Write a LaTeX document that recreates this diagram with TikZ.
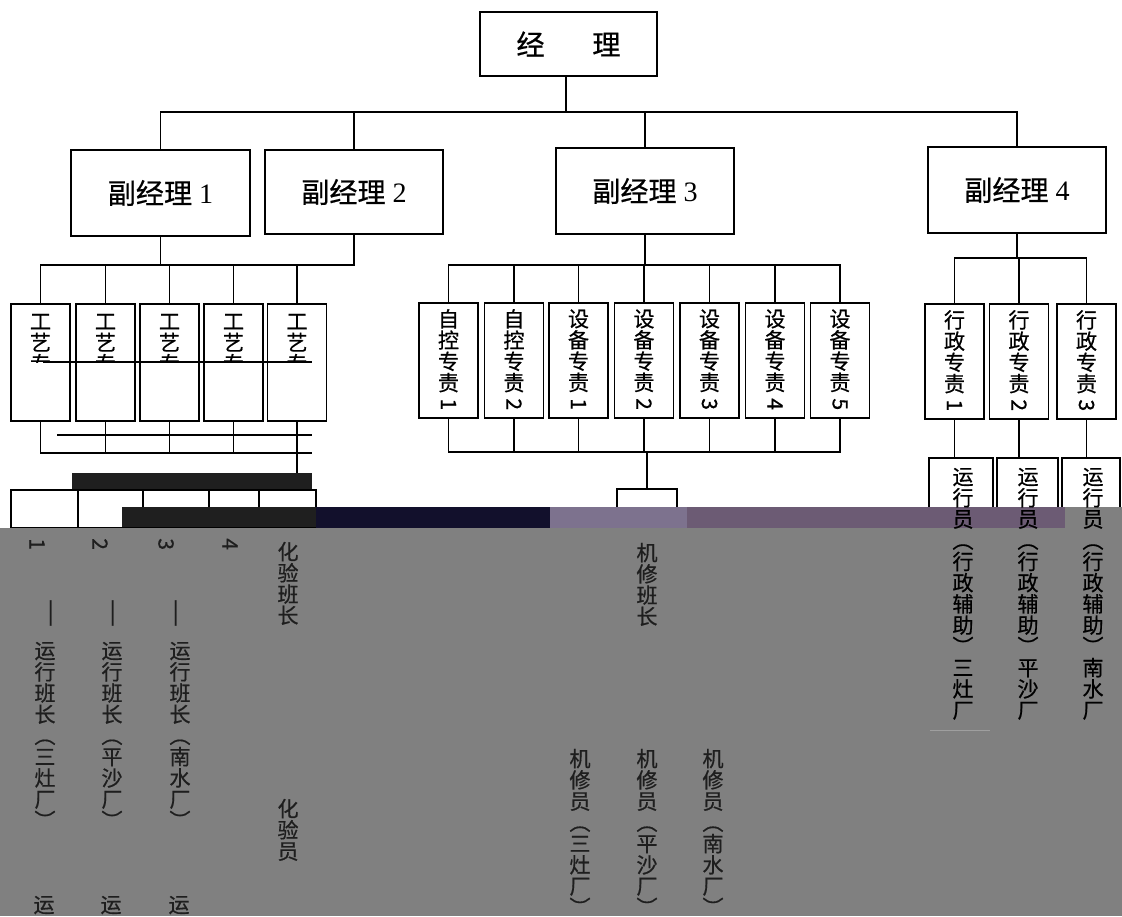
\documentclass[tikz,border=0pt]{standalone}
\usepackage{fontspec}
\usepackage{graphicx}
\setmainfont{Liberation Serif}
\newfontfamily\cjk[FakeBold=0.6]{Noto Sans CJK SC}
\usetikzlibrary{calc,positioning}
\definecolor{glitchgray}{RGB}{128,128,128}
\definecolor{glitchnavy}{RGB}{18,16,44}
\definecolor{glitchlilac}{RGB}{125,114,142}
\definecolor{glitchplum}{RGB}{108,91,116}
\definecolor{inkgray}{RGB}{30,30,30}

\begin{document}
\begin{tikzpicture}[x=0.025cm,y=-0.025cm,line width=1.3pt,
  box/.style={draw,fill=white,inner sep=0pt,line width=1.3pt},
  hlab/.style={font=\fontsize{20}{24}\selectfont},
  vcol/.style={font=\cjk\fontsize{15}{15.1}\selectfont,align=center,inner sep=0pt},
  vgray/.style={vcol,text=inkgray,anchor=north}]

\newcommand\pxu{0.025cm}
\newcommand\rd[1]{\rotatebox[origin=c]{-90}{#1}}

\useasboundingbox (0,0) rectangle (1122,916);
\fill[white] (0,0) rectangle (1122,916);

% manager and deputies
\node[box,hlab,minimum width=177*\pxu,minimum height=64*\pxu] (jl) at (568.5,44) {\cjk 经\hspace{1.7em}理};
\node[box,hlab,minimum width=179*\pxu,minimum height=86*\pxu] (fjl1) at (160.5,193) {{\cjk 副经理} 1};
\node[box,hlab,minimum width=178*\pxu,minimum height=84*\pxu] (fjl2) at (354,192) {{\cjk 副经理} 2};
\node[box,hlab,minimum width=178*\pxu,minimum height=86*\pxu] (fjl3) at (645,191) {{\cjk 副经理} 3};
\node[box,hlab,minimum width=178*\pxu,minimum height=86*\pxu] (fjl4) at (1017,190) {{\cjk 副经理} 4};

\coordinate (tb) at (566,112);
\draw (jl.south -| tb) -- (tb);
\draw (fjl1.north) |- (tb) -| (fjl4.north);
\draw (fjl2.north) -- (fjl2.north |- tb);
\draw (fjl3.north) -- (fjl3.north |- tb);

% process staff (left)
\foreach \i/\x in {1/40.5,2/105.5,3/169.5,4/233.5,5/297}
  \node[box,minimum width=59*\pxu,minimum height=117*\pxu] (gy\i) at (\x,362.5) {};
\begin{scope}
  \clip (0,290) rectangle (330,362);
  \foreach \i/\x in {1/40.5,2/105.5,3/169.5,4/233.5,5/297}
    \node[vcol,anchor=north] (gyt\i) at (\x,313) {工\\艺\\专};
\end{scope}
\coordinate (lb) at (40,265);
\draw (gy1.north) |- (lb) -| (fjl2.south);
\draw (fjl1.south) -- (fjl1.south |- lb);
\foreach \i in {2,...,5} \draw (gy\i.north) -- (gy\i.north |- lb);

% control and equipment staff (middle)
\node[box,vcol,minimum width=59*\pxu,minimum height=115*\pxu] (zk1) at (448.5,360.5) {自\\控\\专\\责\\\rd{1}};
\node[box,vcol,minimum width=59*\pxu,minimum height=115*\pxu] (zk2) at (514,360.5) {自\\控\\专\\责\\\rd{2}};
\foreach \i/\x in {1/578.5,2/644,3/709.5,4/775,5/840}
  \node[box,vcol,minimum width=59*\pxu,minimum height=115*\pxu] (sb\i) at (\x,360.5) {设\\备\\专\\责\\\rd{\i}};
\coordinate (mb) at (645,265);
\draw (zk1.north) |- (mb) -| (sb5.north);
\draw (fjl3.south) -- (mb);
\foreach \n in {zk2,sb1,sb2,sb3,sb4} \draw (\n.north) -- (\n.north |- mb);
\coordinate (mb2) at (645,452);
\draw (zk1.south) |- (mb2) -| (sb5.south);
\foreach \n in {zk2,sb1,sb2,sb3,sb4} \draw (\n.south) -- (\n.south |- mb2);
\node[box,minimum width=60*\pxu,minimum height=40*\pxu] (jx) at (647,509) {};
\draw (jx.north |- mb2) -- (jx.north);

% admin staff (right)
\foreach \i/\x in {1/954.5,2/1019,3/1086.5}
  \node[box,vcol,minimum width=59*\pxu,minimum height=115*\pxu] (xz\i) at (\x,361.5) {行\\政\\专\\责\\\rd{\i}};
\coordinate (rb) at (1017,258);
\draw (xz1.north) |- (rb) -| (xz3.north);
\draw (fjl4.south) -- (fjl4.south |- rb);
\draw (xz2.north) -- (xz2.north |- rb);
\foreach \i/\x/\w in {1/961/64,2/1027.5/61,3/1091/58}
  \node[box,minimum width=\w*\pxu,minimum height=70*\pxu] (yx\i) at (\x,493) {};
\foreach \i in {1,2,3} \draw (xz\i.south) -- (xz\i.south |- yx\i.north);

% shift leaders row (left)
\foreach \i/\x/\w in {1/44.5/67,2/110.5/65,3/176/66,4/234/50,5/287.5/57}
  \node[box,minimum width=\w*\pxu,minimum height=38*\pxu] (yb\i) at (\x,509) {};
\coordinate (lb2) at (40,453);
\coordinate (lb2e) at (312,453);
\foreach \i in {1,...,5} \draw (gy\i.south) -- (gy\i.south |- lb2);
\draw (lb2) -- (lb2e);
\draw (gy5.south |- lb2) -- ++(0,20);

% damaged scan
\draw (43,362) -- (312,362);
\draw (57,435) -- (312,435);
\fill[black!88] (72,473) rectangle (312,489);
\fill[black!88] (122,507) rectangle (316,527);
\fill[glitchgray] (0,528) rectangle (1122,916);
\fill[glitchgray] (1065,507) rectangle (1122,528);
\fill[glitchnavy] (316,507) rectangle (550,528);
\fill[glitchlilac] (550,507) rectangle (687,528);
\fill[glitchplum] (687,507) rectangle (1065,528);
\draw[line width=0.6pt,gray!75] (930,730) -- (990,730);

% texts shown in the grey part
\foreach \i/\x in {1/37,2/100,3/166,4/230}
  \node[vcol,text=inkgray] (dig\i) at (\x,545) {\rd{\i}};
\foreach \i/\x in {1/48,2/110,3/173}
  \node[vcol,text=inkgray] (dash\i) at (\x,613) {\rotatebox{-90}{\scalebox{1.5}[1]{—}}};
\foreach \i/\x/\a/\b in {1/45/三/灶,2/112/平/沙,3/180/南/水}
  \node[vgray] (ybz\i) at (\x,641) {运\\行\\班\\长\\︵\\\a\\\b\\厂\\︶};
\foreach \i/\x in {1/44,2/111,3/179}
  \node[vgray] (yun\i) at (\x,895) {运};
\node[vgray] (hybz) at (288,541) {化\\验\\班\\长};
\node[vgray] (hyy) at (288,798) {化\\验\\员};
\node[vgray] (jxbz) at (647,542) {机\\修\\班\\长};
\foreach \i/\x/\a/\b in {1/580/三/灶,2/647/平/沙,3/713/南/水}
  \node[vgray] (jxy\i) at (\x,748) {机\\修\\员\\︵\\\a\\\b\\厂\\︶};
\foreach \i/\x/\a/\b in {1/963/三/灶,2/1028/平/沙,3/1093/南/水}
  \node[vgray,text=black] (yxt\i) at (\x,467) {运\\行\\员\\︵\\行\\政\\辅\\助\\︶\\\a\\\b\\厂};
\end{tikzpicture}
\end{document}
